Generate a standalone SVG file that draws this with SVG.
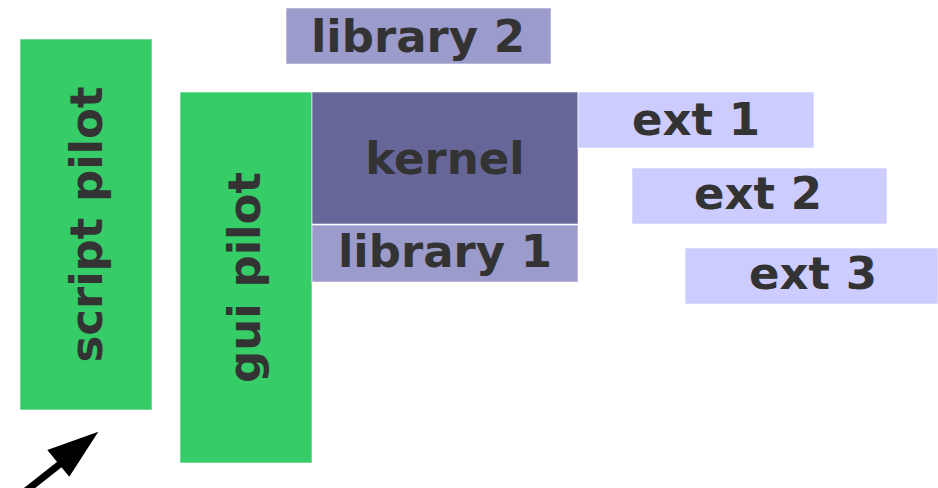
<svg xmlns="http://www.w3.org/2000/svg" width="938" height="488" viewBox="0 0 938 488">
<style>
  .box { stroke: #ffffff; stroke-opacity: 0.6; stroke-width: 1; }
  .pilot { fill: #36CC68; }
  .lib { fill: #9B9BCC; }
  .kern { fill: #666699; }
  .ext { fill: #CCCCFF; }
  .t { font-family: "DejaVu Sans", sans-serif; font-weight: bold; font-size: 45px; fill: #333333; text-anchor: middle; }
</style>
<rect width="938" height="488" fill="#ffffff"/>
<g id="script-pilot">
  <rect class="box pilot" x="20" y="39" width="132" height="371"/>
  <text class="t" transform="translate(102,224.5) rotate(-90)">script pilot</text>
</g>
<g id="gui-pilot">
  <rect class="box pilot" x="180" y="92" width="132" height="371"/>
  <text class="t" transform="translate(260,277.5) rotate(-90)">gui pilot</text>
</g>
<g id="library-2">
  <rect class="box lib" x="286" y="8" width="265" height="56"/>
  <text class="t" x="418" y="52">library 2</text>
</g>
<g id="kernel">
  <rect class="box kern" x="312" y="92" width="266" height="132"/>
  <text class="t" x="445" y="174">kernel</text>
</g>
<g id="library-1">
  <rect class="box lib" x="312" y="225" width="266" height="57"/>
  <text class="t" x="445" y="267">library 1</text>
</g>
<g id="ext-1">
  <rect class="box ext" x="578" y="92" width="236" height="56"/>
  <text class="t" x="696" y="135">ext 1</text>
</g>
<g id="ext-2">
  <rect class="box ext" x="632" y="168" width="255" height="56"/>
  <text class="t" x="758" y="209">ext 2</text>
</g>
<g id="ext-3">
  <rect class="box ext" x="685" y="248" width="253" height="56"/>
  <text class="t" x="813" y="289">ext 3</text>
</g>
<g id="connectors">
  <line x1="22" y1="494" x2="60" y2="464" stroke="#000000" stroke-width="7"/>
  <polygon points="98.3,431.7 47.3,450 69.3,476.7" fill="#000000"/>
</g>
</svg>
